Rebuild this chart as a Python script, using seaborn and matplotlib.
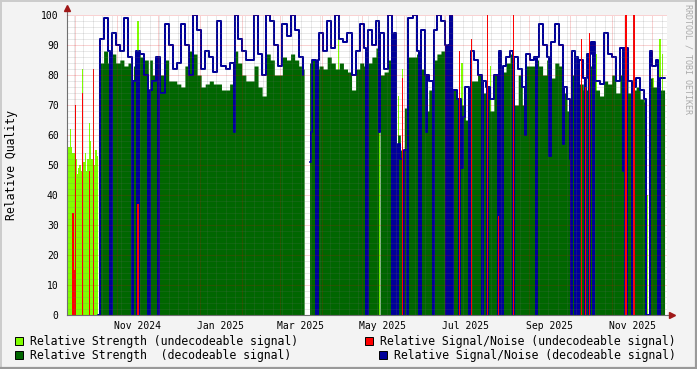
import numpy as np
import pandas as pd
import matplotlib
matplotlib.use("Agg")
import matplotlib.pyplot as plt
import matplotlib.dates as mdates
from matplotlib.ticker import MultipleLocator, NullFormatter
from matplotlib.patches import Rectangle
from matplotlib.lines import Line2D
import seaborn as sns

# ---------------- data ----------------
START = "2024-09-25"
STEP_DAYS = 3
nan = np.nan

# Relative Strength (decodeable signal), 3-day samples
strength_decoded = [nan] * 8 + [
    84, 88, 84, 87, 84, 85, 83, 84, 83, 88,
    86, 85, 85, 80, 86, 80, 85, 78, 78, 77,
    76, 83, 88, 87, 80, 76, 77, 78, 77, 77,
    75, 75, 77, 88, 84, 80, 78, 78, 83, 76,
    73, 87, 85, 80, 80, 86, 85, 87, 85, 83,
    82, 84, 85, 82, 83, 82, 86, 84, 82, 84,
    82, 81, 75, 82, 84, 83, 84, 86, 89, 80,
    81, 85, 86, 60, 55, 69, 86, 86, 87, 82,
    68, 75, 85, 87, 88, 82, 82, 75, 72, 70,
    65, 78, 78, 80, 74, 75, 68, 80, 83, 81,
    84, 87, 70, 80, 70, 83, 83, 85, 83, 80,
    85, 79, 84, 83, 74, 68, 80, 80, 77, 75,
    83, 83, 75, 73, 78, 77, 80, 74, 80, 85,
    74, 75, 76, 72, 71, 79, 76, 78, 75]

# Relative Signal/Noise (decodeable signal), 3-day samples
snr_decoded = [nan] * 8 + [
    92, 99, 88, 94, 90, 88, 99, 86, 78, 88,
    87, 80, 75, 78, 86, 74, 97, 90, 82, 84,
    97, 90, 80, 100, 95, 82, 88, 86, 81, 98,
    83, 82, 84, 100, 92, 88, 85, 85, 100, 87,
    80, 100, 98, 90, 83, 97, 93, 100, 95, 86,
    80, 84, 85, 85, 94, 88, 98, 89, 100, 92,
    91, 94, 80, 88, 97, 89, 95, 90, 98, 94,
    82, 100, 94, 57, 52, 55, 99, 100, 88, 95,
    80, 78, 95, 100, 98, 90, 100, 75, 72, 66,
    76, 88, 85, 80, 78, 76, 72, 80, 88, 83,
    86, 88, 86, 82, 76, 87, 85, 86, 97, 90,
    86, 91, 97, 90, 76, 72, 88, 86, 85, 79,
    87, 91, 78, 77, 94, 87, 86, 78, 89, 89,
    78, 76, 79, 75, 72, 88, 83, 85, 79]

# days (offset from START) with no decodeable signal
outage_days = [23, 32, 48, 52, 60, 67, 184, 221, 230, 240, 243, 248, 251, 260,
               270, 280, 282, 284, 289, 297, 306, 310, 318, 320, 321, 329, 346,
               372, 375, 377, 382, 385, 388, 412, 417, 427, 428, 429, 436, 437]
# short dips of the decodeable S/N
dip_days = [123, 179, 180, 230, 265, 291, 338, 356, 366, 371, 410]
dip_values = [61, 51, 61, 61, 61, 49, 60, 53, 57, 52, 48]
# days without any data
gap_days = [175, 176, 177, 178]

# Relative Strength (undecodeable signal)
lime_days = [0, 1, 2, 3, 4, 5, 6, 7, 8, 9, 10, 11, 12, 13, 14, 15, 16, 17, 18,
             19, 20, 21, 22, 52, 67, 181, 200, 230, 244, 247, 251, 291, 295,
             312, 320, 321, 350, 372, 390, 428, 432, 437, 439]
lime_values = [74, 56, 62, 56, 54, 54, 52, 47, 49, 50, 48, 82, 51, 54, 48, 52,
               64, 58, 52, 55, 50, 55, 53, 98, 79, 70, 98, 61, 73, 82, 82, 84,
               57, 83, 16, 63, 80, 74, 87, 40, 79, 92, 87]

# Relative Signal/Noise (undecodeable signal)
red_days = [0, 4, 5, 6, 11, 16, 19, 52, 247, 289, 298, 310, 318, 329, 379,
            382, 385, 412, 418]
red_values = [68, 34, 15, 70, 74, 48, 82, 37, 79, 88, 92, 100, 33, 100, 92,
              76, 94, 100, 100]

label_dates = ["2024-11-16", "2025-01-16", "2025-03-16", "2025-05-16",
               "2025-07-16", "2025-09-16", "2025-11-16"]
label_texts = ["Nov 2024", "Jan 2025", "Mar 2025", "May 2025",
               "Jul 2025", "Sep 2025", "Nov 2025"]

legend_labels = ["Relative Strength (undecodeable signal)",
                 "Relative Strength  (decodeable signal)",
                 "Relative Signal/Noise (undecodeable signal)",
                 "Relative Signal/Noise (decodeable signal)"]

# ---------------- style ----------------
LIME = "#80FF00"
RED = "#FF0000"
GREEN = "#006600"
BLUE = "#000099"
BG = "#F3F3F3"

sns.set_theme(style="white")
plt.rcParams["font.family"] = ["DejaVu Sans Mono", "DejaVu Sans"]

W, H = 697, 369
fig = plt.figure(figsize=(W / 100, H / 100), dpi=100, facecolor=BG)
ax = fig.add_axes([67 / W, 54 / H, 600 / W, 300 / H])
ax.set_facecolor("white")

# ---------------- build daily series ----------------
start = pd.Timestamp(START)
n_days = len(strength_decoded) * STEP_DAYS
dates = pd.date_range(start, periods=n_days + 1, freq="D")
green = np.repeat(np.array(strength_decoded, float), STEP_DAYS)
blue = np.repeat(np.array(snr_decoded, float), STEP_DAYS)
green[outage_days] = 0
blue[outage_days] = 0
blue[dip_days] = dip_values
green[gap_days] = nan
blue[gap_days] = nan
green = np.nan_to_num(green, nan=0.0)
green = np.append(green, green[-1])
blue = np.append(blue, blue[-1])

# undecodeable strength
lime_dates = start + pd.to_timedelta(lime_days, unit="D")
ax.bar(lime_dates, lime_values, width=1.05, align="edge", color=LIME,
       linewidth=0, zorder=1)

# decodeable strength (area)
ax.fill_between(dates, 0, green, step="post", color=GREEN, linewidth=0,
                zorder=2)

# decodeable S/N (line)
df = pd.DataFrame({"date": dates, "snr": blue})
df["seg"] = df["snr"].isna().cumsum()
sns.lineplot(data=df.dropna(), x="date", y="snr", units="seg",
             estimator=None, sort=False, drawstyle="steps-post",
             color=BLUE, linewidth=1.45, ax=ax, legend=False, zorder=2.2)

# undecodeable S/N
red_dates = start + pd.to_timedelta(red_days, unit="D")
ax.bar(red_dates, red_values, width=1.0, align="edge", color=RED,
       linewidth=0, zorder=2.3)

# ---------------- axes ----------------
ax.set_xlim(start, start + pd.Timedelta(days=442.8))
ax.set_ylim(0, 100)
ax.set_xlabel("")
ax.set_ylabel("")

ax.xaxis.set_major_locator(mdates.MonthLocator(bymonthday=1))
ax.xaxis.set_minor_locator(mdates.WeekdayLocator(byweekday=mdates.MO))
ax.xaxis.set_major_formatter(NullFormatter())
ax.yaxis.set_major_locator(MultipleLocator(10))
ax.yaxis.set_minor_locator(MultipleLocator(2))

ax.set_axisbelow(False)
ax.grid(which="major", color="#E00000", alpha=0.35, linestyle=(0, (1, 1)),
        linewidth=0.72)
ax.grid(which="minor", color="#707070", alpha=0.3, linestyle=(0, (1, 1)),
        linewidth=0.72)

ax.tick_params(axis="both", which="both", direction="out", length=2,
               width=0.7, colors="#C06060", labelcolor="black", labelsize=7,
               pad=2)
ax.tick_params(axis="both", which="minor", colors="#B0B0B0")
ax.tick_params(axis="y", which="major", pad=4)

sec = ax.secondary_xaxis("bottom")
sec.set_xticks(mdates.date2num(pd.to_datetime(label_dates)))
sec.set_xticklabels(label_texts)
sec.tick_params(length=0, labelsize=7, pad=4, labelcolor="black")
sec.spines["bottom"].set_visible(False)

for s in ["top", "right"]:
    ax.spines[s].set_visible(False)
for s in ["left", "bottom"]:
    ax.spines[s].set_color("#707070")
    ax.spines[s].set_linewidth(0.8)

AX_COL = "#707070"
ARROW = "#A01818"
ax.add_line(Line2D([0, 0], [1, 1.02], transform=ax.transAxes, color=AX_COL,
                   lw=0.8, clip_on=False))
ax.add_line(Line2D([1, 1.008], [0, 0], transform=ax.transAxes, color=AX_COL,
                   lw=0.8, clip_on=False))
ax.plot([0], [1.022], marker="^", ms=4, color=ARROW, transform=ax.transAxes,
        clip_on=False, zorder=5)
ax.plot([1.009], [0], marker=">", ms=4, color=ARROW, transform=ax.transAxes,
        clip_on=False, zorder=5)

# ---------------- texts ----------------
fig.text(12 / W, 1 - 165 / H, "Relative Quality", rotation=90, ha="center",
         va="center", fontsize=8.3, color="black")
fig.text(688 / W, 1 - 4 / H, "RRDTOOL / TOBI OETIKER", rotation=270,
         ha="center", va="top", fontsize=6, color="#AAAAAA")

# legend
legend_items = [
    (15, 337, 30, legend_labels[0], LIME),
    (15, 351, 30, legend_labels[1], GREEN),
    (365, 337, 380, legend_labels[2], RED),
    (379, 351, 394, legend_labels[3], BLUE),
]
for bx, by, tx, txt, col in legend_items:
    fig.add_artist(Rectangle((bx / W, 1 - (by + 8) / H), 8 / W, 8 / H,
                             facecolor=col, edgecolor="black", linewidth=0.7,
                             transform=fig.transFigure))
    fig.text(tx / W, 1 - (by + 4.5) / H, txt, ha="left", va="center",
             fontsize=8.3, color="black")

# frame shading
fig.add_artist(Line2D([0, 1], [1 - 0.5 / H, 1 - 0.5 / H], color="#CBCBCB",
                      lw=1.4, transform=fig.transFigure))
fig.add_artist(Line2D([0.5 / W, 0.5 / W], [0, 1], color="#CBCBCB",
                      lw=1.4, transform=fig.transFigure))
fig.add_artist(Line2D([0, 1], [1 / H, 1 / H], color="#999999",
                      lw=1.6, transform=fig.transFigure))
fig.add_artist(Line2D([1 - 1 / W, 1 - 1 / W], [0, 1], color="#999999",
                      lw=1.6, transform=fig.transFigure))

fig.savefig("out.png", dpi=100, facecolor=BG)
